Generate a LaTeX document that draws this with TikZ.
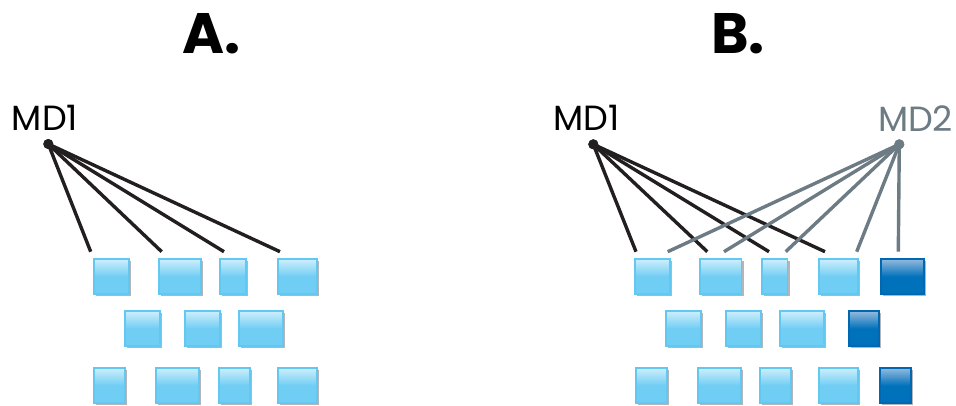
\documentclass[tikz,border=0pt]{standalone}
\usepackage{fontspec}
\setmainfont{Poppins}
\usepackage{tikz}
\usetikzlibrary{shadows,calc}
\definecolor{InkBlack}{HTML}{231F20}
\definecolor{SlateGray}{HTML}{6C7B84}
\definecolor{SkyFill}{HTML}{70CDF4}
\definecolor{SkyTop}{HTML}{CDEEFC}
\definecolor{SkyEdge}{HTML}{62C8F2}
\definecolor{DeepFill}{HTML}{0071BB}
\definecolor{DeepTop}{HTML}{92B9DD}
\definecolor{DeepEdge}{HTML}{0068B0}
\definecolor{ShadowGray}{HTML}{B2B6BA}
\tikzset{
  BX/.style={rectangle,inner sep=0pt,minimum height=35pt,line width=1.6pt,
             drop shadow={shadow xshift=2.2pt,shadow yshift=-2.2pt,fill=ShadowGray,opacity=1}},
  bL/.style={BX,draw=SkyEdge,top color=SkyTop,bottom color=SkyFill,middle color=SkyFill},
  bD/.style={BX,draw=DeepEdge,top color=DeepTop,bottom color=DeepFill,middle color=DeepFill},
  hubK/.style={circle,inner sep=0pt,minimum size=10pt,fill=InkBlack},
  hubG/.style={circle,inner sep=0pt,minimum size=10pt,fill=SlateGray},
  lnK/.style={line width=3.4pt,draw=InkBlack},
  lnG/.style={line width=3.4pt,draw=SlateGray},
  ttl/.style={font=\fontsize{57}{60}\selectfont\bfseries},
  lbl/.style={font=\fontsize{35}{40}\selectfont}
}
\begin{document}
\begin{tikzpicture}[x=1pt,y=-1pt]
  \useasboundingbox (0,0) rectangle (956,406);
  % titles
  \node[ttl] (tA) at (211.5,34) {A.};
  \node[ttl] (tB) at (738,33.5) {B.};
  % panel A
  \node[lbl] (mA) at (45,118.3) {MD1};
  \coordinate (eA1) at (90.7,251.7);
  \coordinate (eA2) at (161.7,251.7);
  \coordinate (eA3) at (224,251.7);
  \coordinate (eA4) at (280,251.7);
  \node[hubK] (hA) at (48.3,144) {};
  \draw[lnK] (hA.center)--(eA1);
  \draw[lnK] (hA.center)--(eA2);
  \draw[lnK] (hA.center)--(eA3);
  \draw[lnK] (hA.center)--(eA4);
  \node[hubK] at (hA) {};
  \node[bL,minimum width=35.1pt] (a11) at (111.7,276.7) {};
  \node[bL,minimum width=41.8pt] (a12) at (180,276.7) {};
  \node[bL,minimum width=25.8pt] (a13) at (233,276.7) {};
  \node[bL,minimum width=38.8pt] (a14) at (297.5,276.7) {};
  \node[bL,minimum width=35.1pt] (a21) at (142.7,328.7) {};
  \node[bL,minimum width=34.8pt] (a22) at (202.5,328.7) {};
  \node[bL,minimum width=43.8pt] (a23) at (261,328.7) {};
  \node[bL,minimum width=30.8pt] (a31) at (109.5,385.7) {};
  \node[bL,minimum width=42.8pt] (a32) at (177.5,385.7) {};
  \node[bL,minimum width=30.8pt] (a33) at (234.5,385.7) {};
  \node[bL,minimum width=38.8pt] (a34) at (297.5,385.7) {};
  % panel B
  \node[lbl] (mB1) at (586.5,118.3) {MD1};
  \node[lbl,text=SlateGray] (mB2) at (915.5,118.3) {MD2};
  \node[hubK] (hB1) at (593.3,144.3) {};
  \node[hubG] (hB2) at (899.3,144.3) {};
  \coordinate (eK1) at (636,251.7);
  \coordinate (eK2) at (707.3,251.7);
  \coordinate (eK3) at (769,251.7);
  \coordinate (eK4) at (825,251.7);
  \coordinate (eG1) at (667.7,251.7);
  \coordinate (eG2) at (724,251.7);
  \coordinate (eG3) at (785.7,251.7);
  \coordinate (eG4) at (856.7,251.7);
  \coordinate (eG5) at (898.3,251.7);
  \draw[lnK] (hB1.center)--(eK1);
  \draw[lnK] (hB1.center)--(eK2);
  \draw[lnK] (hB1.center)--(eK3);
  \draw[lnK] (hB1.center)--(eK4);
  \draw[lnG] (hB2.center)--(eG1);
  \draw[lnG] (hB2.center)--(eG2);
  \draw[lnG] (hB2.center)--(eG3);
  \draw[lnG] (hB2.center)--(eG4);
  \draw[lnG] (hB2.center)--(eG5);
  \node[hubK] at (hB1) {};
  \node[hubG] at (hB2) {};
  \node[bL,minimum width=35.1pt] (b11) at (652.3,276.7) {};
  \node[bL,minimum width=41.7pt] (b12) at (720.7,276.7) {};
  \node[bL,minimum width=25.4pt] (b13) at (774.8,276.7) {};
  \node[bL,minimum width=38.8pt] (b14) at (838.5,276.7) {};
  \node[bD,minimum width=42.8pt] (b15) at (902.5,276.7) {};
  \node[bL,minimum width=34.8pt] (b21) at (683.5,328.7) {};
  \node[bL,minimum width=34.8pt] (b22) at (743.5,328.7) {};
  \node[bL,minimum width=43.8pt] (b23) at (802,328.7) {};
  \node[bD,minimum width=29.8pt] (b24) at (864,328.7) {};
  \node[bL,minimum width=31.1pt] (b31) at (651.7,385.7) {};
  \node[bL,minimum width=42.8pt] (b32) at (719.5,385.7) {};
  \node[bL,minimum width=30.8pt] (b33) at (775.5,385.7) {};
  \node[bL,minimum width=38.8pt] (b34) at (838.5,385.7) {};
  \node[bD,minimum width=30.8pt] (b35) at (895.5,385.7) {};
\end{tikzpicture}
\end{document}
